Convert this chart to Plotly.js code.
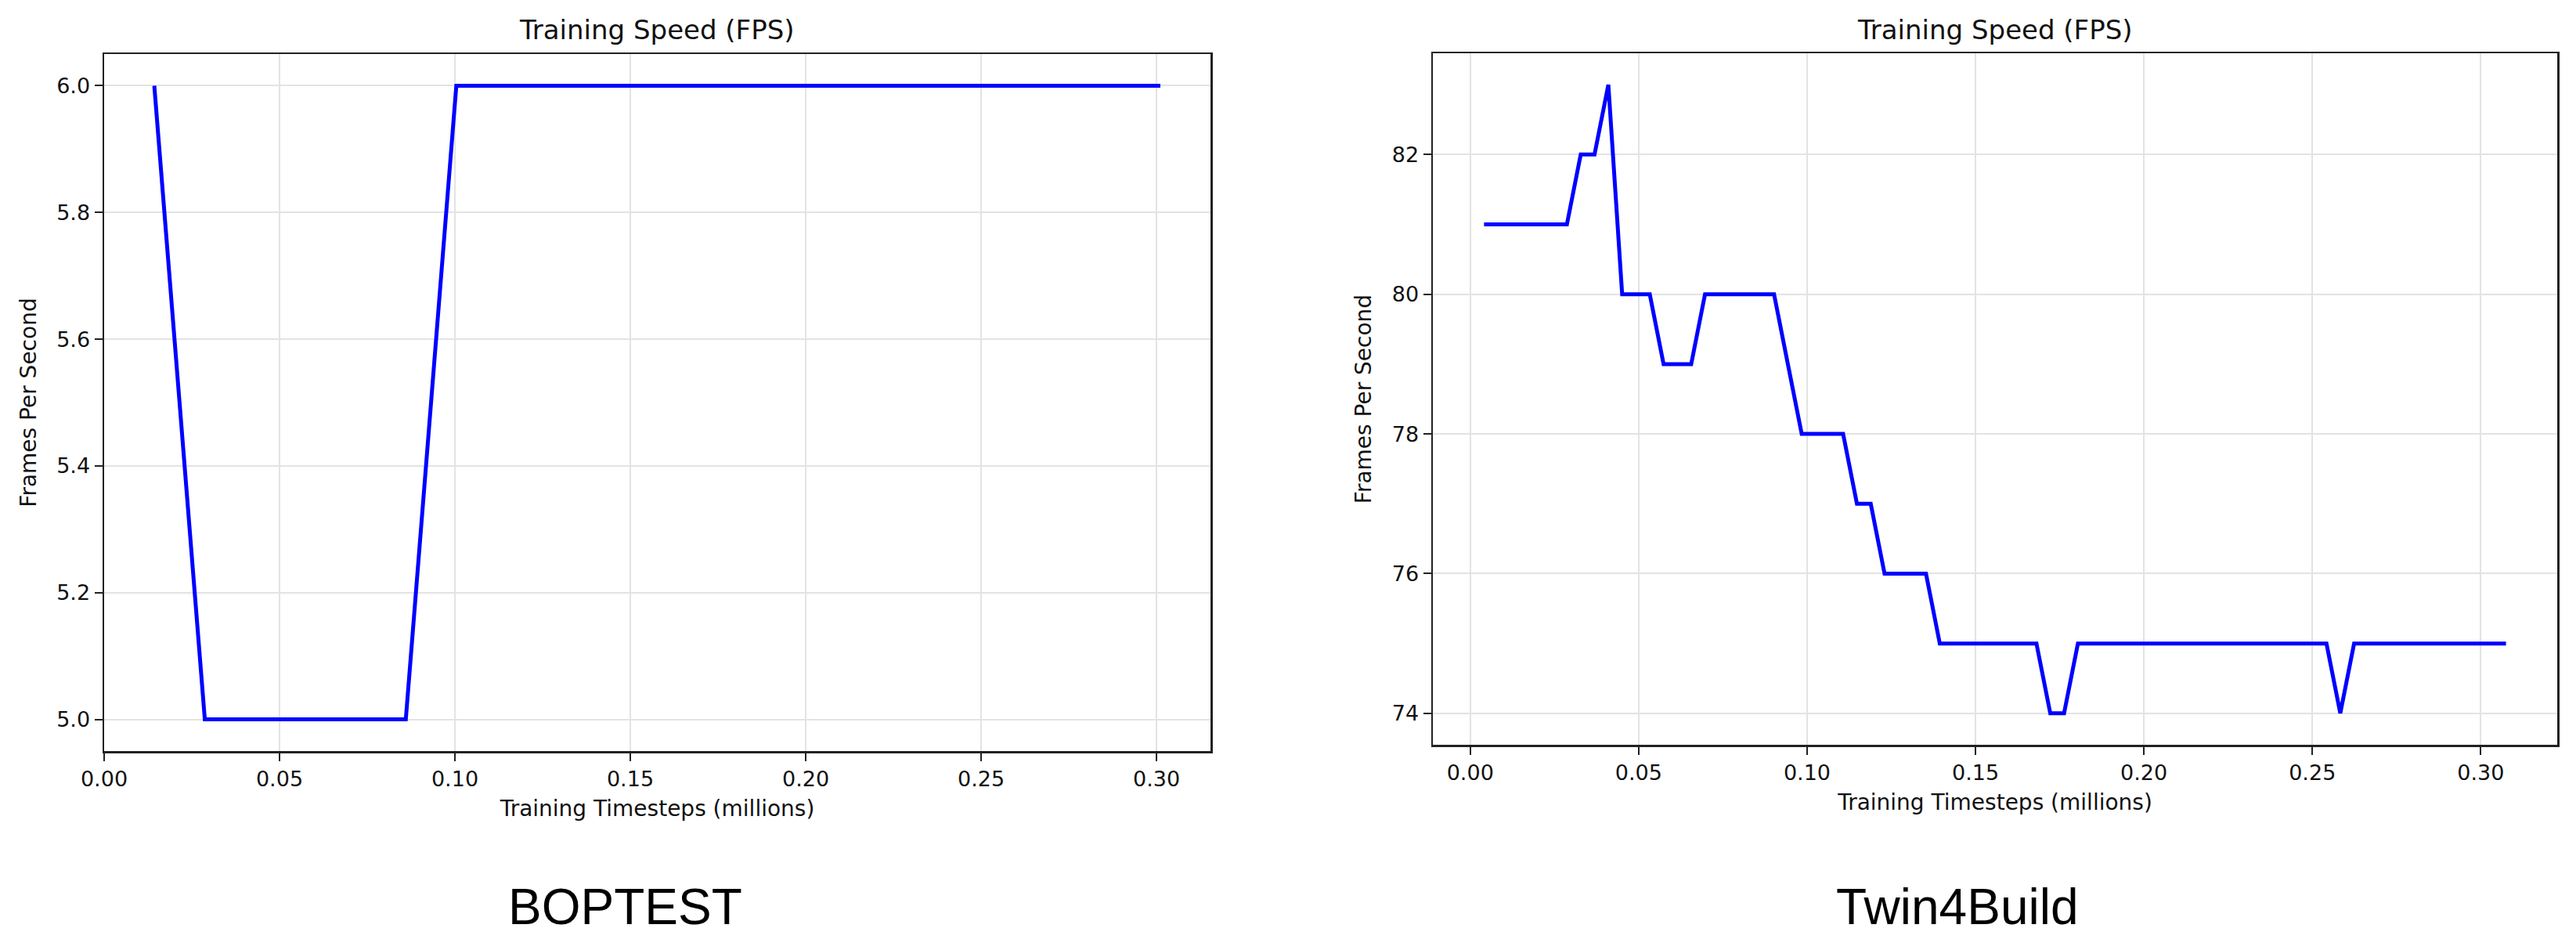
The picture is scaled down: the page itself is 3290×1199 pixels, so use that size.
<!DOCTYPE html>
<html>
<head>
<meta charset="utf-8">
<script src="https://cdn.plot.ly/plotly-3.0.1.min.js"></script>
<style>
  html, body { margin: 0; padding: 0; background: white; }
  #chart { width: 3290px; height: 1199px; }
</style>
</head>
<body>
<div id="chart"></div>
<script>
// BOPTEST: training timesteps (millions) vs FPS
const boptestSteps = [0.0143, 0.0287, 0.0860, 0.1004, 0.3011];
const boptestFps = [6, 5, 5, 6, 6];

// Twin4Build: training timesteps (millions) vs FPS
const twinSteps = [
  0.0041, 0.0287, 0.0328, 0.0369, 0.0410, 0.0451, 0.0533, 0.0574, 0.0656,
  0.0697, 0.0902, 0.0943, 0.0984, 0.1107, 0.1148, 0.1189, 0.1230, 0.1353,
  0.1394, 0.1681, 0.1722, 0.1763, 0.1804, 0.2542, 0.2583, 0.2624, 0.3075,
];
const twinFps = [
  81, 81, 82, 82, 83, 80, 80, 79, 79,
  80, 80, 79, 78, 78, 77, 77, 76, 76,
  75, 75, 74, 74, 75, 75, 74, 75, 75,
];

const panelTitle = "Training Speed (FPS)";
const xLabel = "Training Timesteps (millions)";
const yLabel = "Frames Per Second";
const panelNames = ["BOPTEST", "Twin4Build"];

const W = 3290;
const H = 1199;
const tickFont = { family: "DejaVu Sans", size: 27, color: "#111" };
const labelFont = { family: "DejaVu Sans", size: 28, color: "#111" };

function baseAxis() {
  return {
    showline: true,
    mirror: true,
    linecolor: "#222",
    linewidth: 2.5,
    ticks: "outside",
    ticklen: 10,
    tickwidth: 2,
    tickcolor: "#222",
    showgrid: true,
    gridcolor: "#e3e3e3",
    gridwidth: 2,
    zeroline: false,
    tickfont: tickFont,
  };
}

const traceBoptest = {
  x: boptestSteps,
  y: boptestFps,
  xaxis: "x",
  yaxis: "y",
  mode: "lines",
  line: { color: "#0000ff", width: 5 },
};

const traceTwin = {
  x: twinSteps,
  y: twinFps,
  xaxis: "x2",
  yaxis: "y2",
  mode: "lines",
  line: { color: "#0000ff", width: 5 },
};

// panel boxes in pixels
const left = { x0: 133, x1: 1546, y0: 69, y1: 959 };
const right = { x0: 1830, x1: 3266, y0: 68, y1: 951 };

function domX(p) { return [p.x0 / W, p.x1 / W]; }
function domY(p) { return [1 - p.y1 / H, 1 - p.y0 / H]; }

const layout = {
  width: W,
  height: H,
  margin: { l: 0, r: 0, t: 0, b: 0 },
  paper_bgcolor: "white",
  plot_bgcolor: "white",
  showlegend: false,
  xaxis: Object.assign(baseAxis(), {
    domain: domX(left),
    anchor: "y",
    range: [0.0, 0.3154],
    dtick: 0.05,
    tick0: 0,
    tickformat: ".2f",
    title: { text: xLabel, font: labelFont, standoff: 14 },
  }),
  yaxis: Object.assign(baseAxis(), {
    domain: domY(left),
    anchor: "x",
    range: [4.95, 6.05],
    dtick: 0.2,
    tick0: 5,
    tickformat: ".1f",
    title: { text: yLabel, font: labelFont, standoff: 18 },
  }),
  xaxis2: Object.assign(baseAxis(), {
    domain: domX(right),
    anchor: "y2",
    range: [-0.0111, 0.3227],
    dtick: 0.05,
    tick0: 0,
    tickformat: ".2f",
    title: { text: xLabel, font: labelFont, standoff: 14 },
  }),
  yaxis2: Object.assign(baseAxis(), {
    domain: domY(right),
    anchor: "x2",
    range: [73.55, 83.45],
    dtick: 2,
    tick0: 74,
    title: { text: yLabel, font: labelFont, standoff: 18 },
  }),
  annotations: [
    {
      text: panelTitle,
      xref: "paper", yref: "paper",
      x: (left.x0 + left.x1) / 2 / W, y: 1 - 38 / H,
      xanchor: "center", yanchor: "middle",
      showarrow: false,
      font: { family: "DejaVu Sans", size: 34, color: "#111" },
    },
    {
      text: panelTitle,
      xref: "paper", yref: "paper",
      x: (right.x0 + right.x1) / 2 / W, y: 1 - 38 / H,
      xanchor: "center", yanchor: "middle",
      showarrow: false,
      font: { family: "DejaVu Sans", size: 34, color: "#111" },
    },
    {
      text: panelNames[0],
      xref: "paper", yref: "paper",
      x: 798 / W, y: 1 - 1158 / H,
      xanchor: "center", yanchor: "middle",
      showarrow: false,
      font: { family: "Liberation Sans", size: 64, color: "#000" },
    },
    {
      text: panelNames[1],
      xref: "paper", yref: "paper",
      x: 2500 / W, y: 1 - 1158 / H,
      xanchor: "center", yanchor: "middle",
      showarrow: false,
      font: { family: "Liberation Sans", size: 64, color: "#000" },
    },
  ],
};

Plotly.newPlot("chart", [traceBoptest, traceTwin], layout, {
  staticPlot: true,
  displayModeBar: false,
});
</script>
</body>
</html>
